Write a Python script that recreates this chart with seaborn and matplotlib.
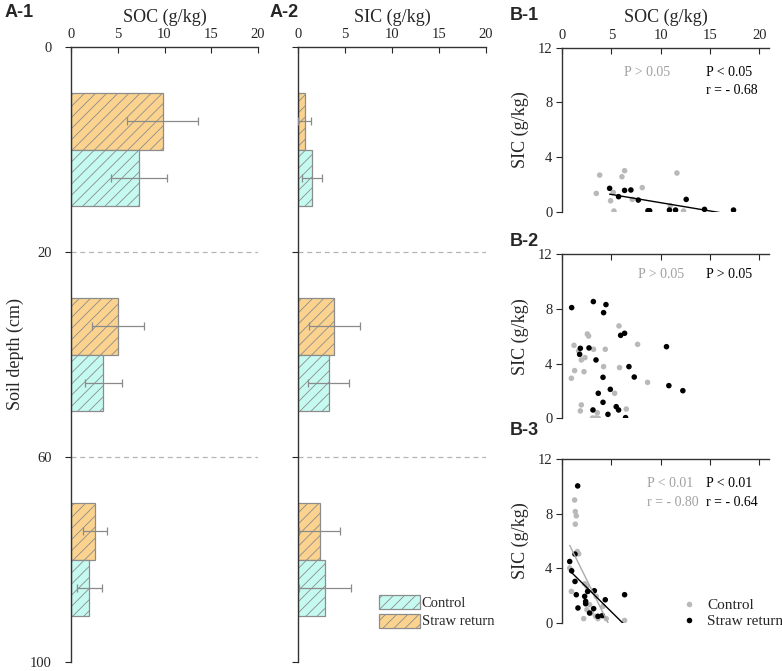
import numpy as np
import pandas as pd
import matplotlib
matplotlib.use('Agg')
import matplotlib.pyplot as plt
from matplotlib.patches import Patch
from matplotlib.lines import Line2D
import seaborn as sns

# ---- A panels: layer means and SD ----
layers = ['0-20', '20-60', '60-100']
depth_ticks = ['0', '20', '60', '100']
treatments = ['Straw return', 'Control']

soc_straw = [9.8, 5.0, 2.55]
soc_straw_sd = [3.8, 2.8, 1.25]
soc_ctrl = [7.25, 3.45, 1.95]
soc_ctrl_sd = [3.0, 2.0, 1.35]

sic_straw = [0.7, 3.85, 2.3]
sic_straw_sd = [0.7, 2.7, 2.2]
sic_ctrl = [1.5, 3.25, 2.9]
sic_ctrl_sd = [1.05, 2.15, 2.75]

# ---- B panels: SOC vs SIC points ----
# B-1 (0-20 cm)
b1_ctrl_soc = [3.48, 3.82, 4.93, 5.2, 5.27, 6.08, 6.35, 7.13, 8.14, 10.98, 11.66, 12.33]
b1_ctrl_sic = [1.34, 2.68, 0.80, 1.41, 0.05, 2.56, 3.0, 0.9, 1.76, 0.44, 2.83, 0.05]
b1_straw_soc = [4.83, 5.74, 6.35, 6.99, 7.74, 8.72, 8.89, 10.9, 11.52, 12.6, 14.46, 17.4]
b1_straw_sic = [1.71, 1.1, 1.56, 1.59, 0.85, 0.07, 0.07, 0.12, 0.12, 0.9, 0.17, 0.12]

# B-2 (20-60 cm)
b2_ctrl_soc = [0.95, 1.22, 1.28, 1.69, 1.96, 2.33, 2.23, 1.96, 1.86, 2.57, 2.7, 3.2,
               3.1, 3.41, 3.58, 3.68, 4.22, 4.39, 5.34, 5.78, 5.84, 6.52, 7.67, 8.68]
b2_ctrl_sic = [2.93, 5.34, 3.49, 4.93, 4.27, 4.44, 3.41, 0.98, 0.54, 6.17, 6.02, 5.05,
               0.02, 0.02, 0.41, 0.0, 3.78, 5.05, 1.83, 6.76, 3.71, 0.68, 5.41, 2.63]
b2_straw_soc = [0.98, 1.86, 1.79, 2.74, 3.18, 3.45, 4.22, 4.46, 4.16, 3.68, 4.16, 3.14,
                4.66, 4.9, 5.5, 5.74, 5.95, 6.35, 6.79, 7.33, 6.45, 10.6, 10.84, 12.26]
b2_straw_sic = [8.1, 5.12, 4.68, 5.15, 8.54, 4.27, 7.73, 8.32, 3.0, 1.83, 1.17, 0.61,
                0.29, 2.12, 0.85, 0.61, 6.07, 6.22, 3.78, 3.02, 0.05, 5.24, 2.39, 2.02]

# B-3 (60-100 cm)
b3_ctrl_soc = [0.95, 0.78, 1.28, 1.35, 1.45, 1.35, 1.55, 1.69, 2.3, 2.53, 2.64,
               2.8, 2.53, 2.2, 2.97, 3.48, 3.41, 3.65, 4.16, 4.49, 6.35]
b3_ctrl_sic = [2.31, 4.02, 9.0, 8.15, 7.84, 7.23, 5.23, 5.06, 2.87, 2.68, 2.31,
               1.34, 0.97, 0.32, 0.73, 1.95, 0.49, 0.32, 1.22, 0.32, 0.19]
b3_straw_soc = [1.59, 0.78, 0.98, 1.32, 1.32, 1.45, 1.62, 2.3, 2.4, 2.4, 2.6,
                3.28, 3.21, 2.8, 3.65, 4.09, 4.39, 6.35]
b3_straw_sic = [10.03, 4.5, 3.82, 3.04, 5.04, 2.07, 1.1, 1.95, 1.58, 1.41, 2.31,
                2.36, 1.05, 0.73, 0.49, 0.54, 1.7, 2.07]

sns.set_style('ticks')
plt.rcParams['font.family'] = ['Liberation Serif', 'DejaVu Serif']
plt.rcParams['axes.linewidth'] = 1.0
plt.rcParams['axes.edgecolor'] = '#333333'
plt.rcParams['hatch.linewidth'] = 0.6

orange = '#fbd38e'
cyan = '#c4faf0'
edge = '#8c8c8c'
grey_pt = '#b9b9b9'
pal = {'Straw return': orange, 'Control': cyan}
hatch = '///'

fig = plt.figure(figsize=(7.82, 6.71), dpi=100)


def bar_panel(rect, straw, straw_sd, ctrl, ctrl_sd, xlabel, first):
    ax = fig.add_axes(rect)
    df = pd.DataFrame({'layer': layers * 2,
                       'treatment': ['Straw return'] * 3 + ['Control'] * 3,
                       'value': straw + ctrl})
    sns.barplot(data=df, x='value', y='layer', hue='treatment', hue_order=treatments,
                palette=pal, orient='h', width=0.554, errorbar=None, saturation=1,
                edgecolor=edge, linewidth=0.9, hatch=hatch, legend=False, ax=ax)
    vals = straw + ctrl
    sds = straw_sd + ctrl_sd
    for p in ax.patches:
        i = int(np.argmin([abs(v - p.get_width()) for v in vals]))
        ax.errorbar(p.get_width(), p.get_y() + p.get_height() / 2, xerr=sds[i],
                    color='#8a8a8a', lw=0.9, capsize=3, capthick=0.9, zorder=5)
    for yy in [0.5, 1.5]:
        ax.plot([0, 20], [yy, yy], ls=(0, (4, 3)), color='#b5b5b5', lw=0.9)
    ax.set_xlim(0, 20)
    ax.set_ylim(2.5, -0.5)
    ax.set_xticks([0, 5, 10, 15, 20])
    ax.set_yticks([-0.5, 0.5, 1.5, 2.5])
    ax.xaxis.tick_top()
    ax.xaxis.set_label_position('top')
    ax.set_xlabel(xlabel, fontsize=13, labelpad=5)
    ax.tick_params(axis='x', direction='in', length=4, labelsize=10.5, pad=4, top=True, bottom=False)
    ax.tick_params(axis='y', direction='out', length=4, labelsize=10.5, pad=10)
    if first:
        ax.set_yticklabels(depth_ticks)
        ax.set_ylabel('Soil depth (cm)', fontsize=13, labelpad=4)
    else:
        ax.set_yticklabels([])
        ax.set_ylabel('')
    ax.spines['bottom'].set_visible(False)
    ax.spines['right'].set_visible(False)
    return ax


axA1 = bar_panel([71 / 782, 1 - 662 / 671, 187 / 782, 615 / 671],
                 soc_straw, soc_straw_sd, soc_ctrl, soc_ctrl_sd, 'SOC (g/kg)', True)
axA2 = bar_panel([298 / 782, 1 - 662 / 671, 188 / 782, 615 / 671],
                 sic_straw, sic_straw_sd, sic_ctrl, sic_ctrl_sd, 'SIC (g/kg)', False)

handles = [Patch(facecolor=cyan, edgecolor=edge, hatch=hatch, linewidth=0.9),
           Patch(facecolor=orange, edgecolor=edge, hatch=hatch, linewidth=0.9)]
axA2.legend(handles, ['Control', 'Straw return'], loc='lower left',
            bbox_to_anchor=(0.4, 0.045), frameon=False, fontsize=10.5,
            handlelength=2.8, handleheight=1.1, labelspacing=0.25, handletextpad=0.12,
            borderaxespad=0)


def scatter_panel(top_px, ctrl_x, ctrl_y, straw_x, straw_y, fit_ctrl, fit_straw, labels):
    ax = fig.add_axes([562 / 782, 1 - (top_px + 164) / 671, 207 / 782, 164 / 671])
    sns.scatterplot(x=ctrl_x, y=ctrl_y, color=grey_pt, s=16, edgecolor='none', ax=ax)
    sns.scatterplot(x=straw_x, y=straw_y, color='black', s=16, edgecolor='none', ax=ax)
    if fit_ctrl:
        sns.regplot(x=ctrl_x, y=ctrl_y, scatter=False, ci=None, color='#aaaaaa',
                    line_kws=dict(lw=1), ax=ax)
    if fit_straw:
        sns.regplot(x=straw_x, y=straw_y, scatter=False, ci=None, color='black',
                    line_kws=dict(lw=1), ax=ax)
    ax.set_xlim(0, 21)
    ax.set_ylim(0, 12)
    ax.set_xticks([0, 5, 10, 15, 20])
    ax.set_yticks([0, 4, 8, 12])
    ax.xaxis.tick_top()
    ax.tick_params(axis='x', direction='in', length=4, labelsize=10.5, pad=4, top=True, bottom=False)
    ax.tick_params(axis='y', direction='out', length=4, labelsize=10.5, pad=3)
    ax.set_ylabel('SIC (g/kg)', fontsize=13, labelpad=6)
    ax.set_xlabel('')
    ax.spines['bottom'].set_visible(False)
    ax.spines['right'].set_visible(False)
    for (x, y, s, c) in labels:
        ax.text(x, y, s, transform=ax.transAxes, fontsize=10, color=c, ha='left', va='center')
    return ax


gtxt = '#a0a0a0'
axB1 = scatter_panel(47.7, b1_ctrl_soc, b1_ctrl_sic, b1_straw_soc, b1_straw_sic, False, True,
                     [(0.30, 0.846, 'P > 0.05', gtxt), (0.694, 0.846, 'P < 0.05', 'black'),
                      (0.694, 0.736, 'r = - 0.68', 'black')])
axB1.xaxis.set_label_position('top')
axB1.set_xlabel('SOC (g/kg)', fontsize=13, labelpad=5)

axB2 = scatter_panel(254.3, b2_ctrl_soc, b2_ctrl_sic, b2_straw_soc, b2_straw_sic, False, False,
                     [(0.369, 0.874, 'P > 0.05', gtxt), (0.697, 0.874, 'P > 0.05', 'black')])
axB2.set_xticklabels([])

axB3 = scatter_panel(459, b3_ctrl_soc, b3_ctrl_sic, b3_straw_soc, b3_straw_sic, True, True,
                     [(0.41, 0.852, 'P < 0.01', gtxt), (0.694, 0.852, 'P < 0.01', 'black'),
                      (0.41, 0.736, 'r = - 0.80', gtxt), (0.694, 0.736, 'r = - 0.64', 'black')])
axB3.set_xticklabels([])
leg_h = [Line2D([], [], ls='none', marker='o', ms=4, color=grey_pt, mec='none'),
         Line2D([], [], ls='none', marker='o', ms=4, color='black', mec='none')]
axB3.legend(leg_h, ['Control', 'Straw return'], loc='lower left', bbox_to_anchor=(0.54, -0.07),
            frameon=False, fontsize=11, handlelength=1.2, handletextpad=0.6,
            labelspacing=0.15, borderaxespad=0)

for txt, x, y in [('A-1', 5, 4), ('A-2', 270, 4), ('B-1', 510, 7), ('B-2', 510, 233), ('B-3', 510, 422)]:
    fig.text(x / 782, 1 - y / 671, txt, ha='left', va='top', fontsize=13,
             fontweight='bold', family=['Liberation Sans', 'DejaVu Sans'])

fig.savefig('out.png', dpi=100)
